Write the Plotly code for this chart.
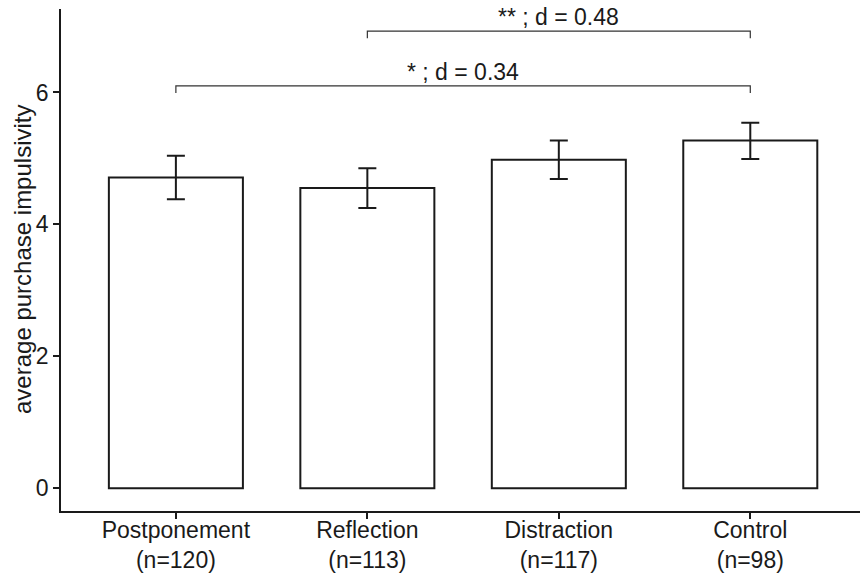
import plotly.graph_objects as go

categories = ["Postponement<br>(n=120)", "Reflection<br>(n=113)", "Distraction<br>(n=117)", "Control<br>(n=98)"]
means = [4.71, 4.55, 4.98, 5.27]
err_upper = [0.33, 0.30, 0.29, 0.27]
err_lower = [0.33, 0.30, 0.29, 0.28]

brackets = [
    {"from": 1, "to": 3, "y": 6.93, "label": "** ; d = 0.48"},
    {"from": 0, "to": 3, "y": 6.10, "label": "* ; d = 0.34"},
]
tick_drop = 0.11

FONT = "Liberation Sans, Arial, sans-serif"
INK = "#1a1a1a"

fig = go.Figure()
fig.add_trace(go.Bar(
    x=categories, y=means, width=0.7,
    marker=dict(color="white", line=dict(color=INK, width=2)),
    error_y=dict(type="data", symmetric=False, array=err_upper, arrayminus=err_lower,
                 color=INK, thickness=2, width=9),
    showlegend=False, hoverinfo="skip",
))

for b in brackets:
    xs = [categories[b["from"]], categories[b["from"]], categories[b["to"]], categories[b["to"]]]
    ys = [b["y"] - tick_drop, b["y"], b["y"], b["y"] - tick_drop]
    fig.add_trace(go.Scatter(x=xs, y=ys, mode="lines", line=dict(color="#333333", width=1.2),
                             showlegend=False, hoverinfo="skip"))
    fig.add_annotation(x=(b["from"] + b["to"]) / 2, y=b["y"], xref="x", yref="y",
                       text=b["label"], showarrow=False, yanchor="middle", yshift=14,
                       font=dict(family=FONT, size=23, color=INK))

fig.add_annotation(x=22, xref="paper", xshift=0, y=0.5, yref="paper",
                   text="average purchase impulsivity", textangle=-90, showarrow=False,
                   xanchor="center", yanchor="middle",
                   font=dict(family=FONT, size=24, color=INK))
fig.layout.annotations[-1].x = 0
fig.layout.annotations[-1].xshift = 22 - 61

fig.update_layout(
    width=860, height=574,
    margin=dict(l=61, r=0, t=9, b=63),
    plot_bgcolor="white", paper_bgcolor="white",
    font=dict(family=FONT, color=INK),
    xaxis=dict(range=[-0.6, 3.573], showline=True, linecolor=INK, linewidth=1.6,
               ticks="outside", ticklen=6, tickcolor=INK, tickwidth=1.6, automargin=False,
               ticklabelstandoff=-8,
               tickfont=dict(size=23, color=INK), showgrid=False, zeroline=False),
    yaxis=dict(range=[-0.344, 7.265], showline=True, linecolor=INK, linewidth=1.6,
               ticks="outside", ticklen=6, tickcolor=INK, tickwidth=1.6, automargin=False,
               tickvals=[0, 2, 4, 6], tickfont=dict(size=23, color=INK),
               showgrid=False, zeroline=False),
)

fig.write_html("out.html", config={"displayModeBar": False},
               post_script="document.body.style.margin='0';document.body.style.overflow='hidden';")
